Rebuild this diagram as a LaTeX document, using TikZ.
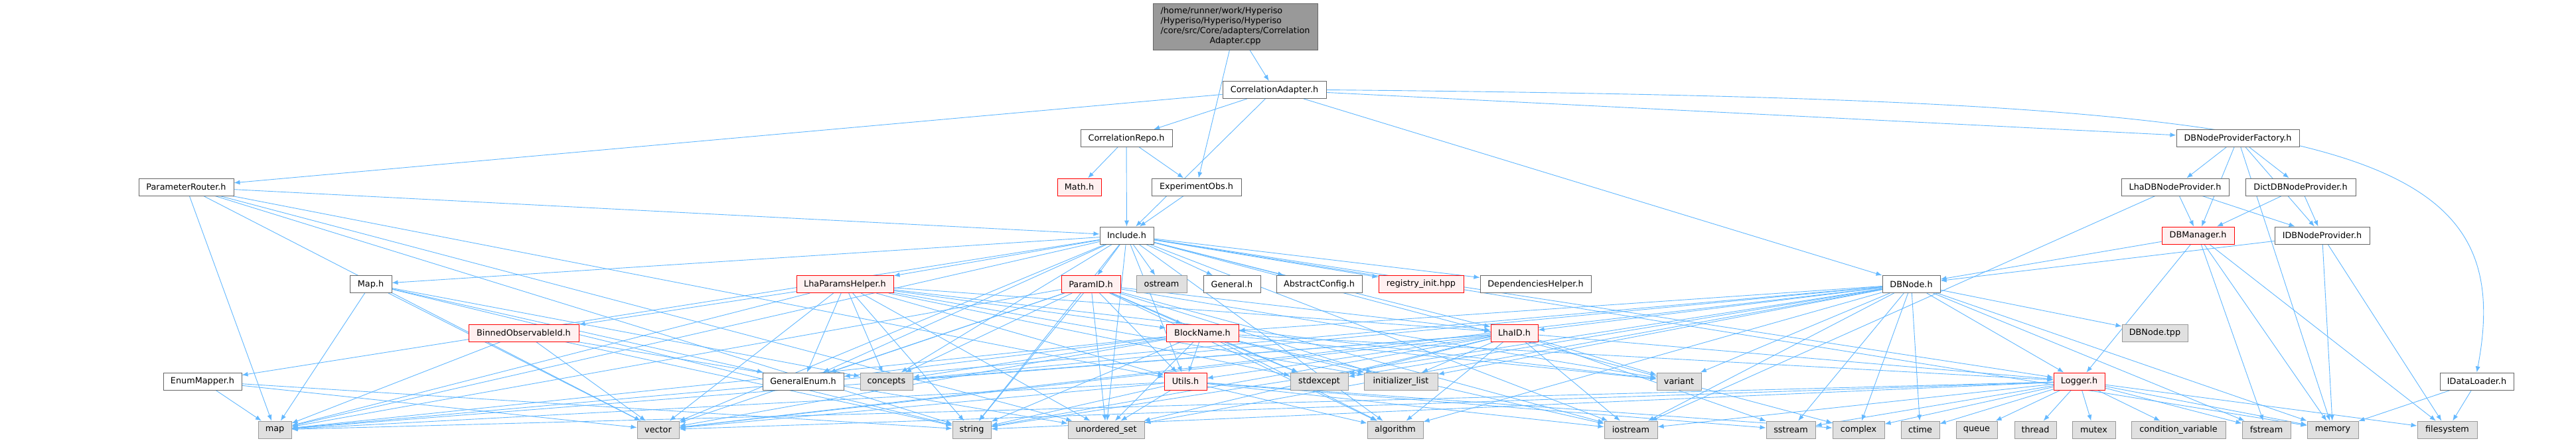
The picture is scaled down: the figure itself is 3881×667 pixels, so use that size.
\documentclass[tikz,border=0pt]{standalone}
\usepackage{fontspec}
\setmainfont{DejaVu Sans}
\usetikzlibrary{arrows.meta}
\usetikzlibrary{backgrounds}
\definecolor{edgeblue}{HTML}{63B8FF}
\definecolor{boxgray}{HTML}{666666}
\definecolor{redfill}{HTML}{FFF0F0}
\definecolor{sysgray}{HTML}{999999}
\definecolor{sysfill}{HTML}{E0E0E0}
\definecolor{maingray}{HTML}{999999}

\begin{document}
\begin{tikzpicture}[x=1pt,y=-1pt,
    box/.style={draw=boxgray, fill=white, line width=1pt, minimum height=26pt,
                inner sep=0pt, font=\fontsize{12.8}{15}\selectfont},
    hdr/.style={box},
    redhdr/.style={box, draw=red, fill=redfill},
    syshdr/.style={box, draw=sysgray, fill=sysfill},
    mainfile/.style={box, fill=maingray},
    dep/.style={draw=edgeblue, line width=0.9pt, -{Latex[length=9pt,width=7pt]}}]
        \useasboundingbox (0,0) rectangle (3881,667);

        % Source file and first levels
        \node[mainfile, minimum width=248pt, minimum height=70pt] (cpp) at (1861,40)
            {\begin{tabular}{@{}l@{}}/home/runner/work/Hyperiso\\/Hyperiso/Hyperiso/Hyperiso\\
             /core/src/Core/adapters/Correlation\\\multicolumn{1}{@{}c@{}}{Adapter.cpp}\end{tabular}};
        \node[hdr, minimum width=156pt] (ca) at (1920,135.5) {CorrelationAdapter.h};
        \node[hdr, minimum width=138pt] (crepo) at (1697,208.5) {CorrelationRepo.h};
        \node[hdr, minimum width=185pt] (dbnpf) at (3371.5,208.5) {DBNodeProviderFactory.h};
        \node[hdr, minimum width=143pt] (prouter) at (280.5,282) {ParameterRouter.h};
        \node[redhdr, minimum width=66pt] (mathh) at (1626,282) {Math.h};
        \node[hdr, minimum width=135pt] (expobs) at (1802.5,282) {ExperimentObs.h};
        \node[hdr, minimum width=162pt] (lhadbnp) at (3277,282) {LhaDBNodeProvider.h};
        \node[hdr, minimum width=166pt] (dictdbnp) at (3466,282) {DictDBNodeProvider.h};
        \node[hdr, minimum width=81pt] (inc) at (1697.5,355) {Include.h};
        \node[redhdr, minimum width=109pt] (dbman) at (3311.5,355) {DBManager.h};
        \node[hdr, minimum width=143pt] (idbnp) at (3498.5,355) {IDBNodeProvider.h};

        % Project headers
        \node[hdr, minimum width=63pt] (maph) at (558.5,428.5) {Map.h};
        \node[redhdr, minimum width=146pt] (lhaparams) at (1273,428.5) {LhaParamsHelper.h};
        \node[redhdr, minimum width=89pt] (paramid) at (1643.5,428.5) {ParamID.h};
        \node[syshdr, minimum width=76pt] (ostream) at (1750,428.5) {ostream};
        \node[hdr, minimum width=86pt] (general) at (1856,428.5) {General.h};
        \node[hdr, minimum width=129pt] (absconf) at (1987.5,428.5) {AbstractConfig.h};
        \node[redhdr, minimum width=128pt] (reginit) at (2141,428.5) {registry\_init.hpp};
        \node[hdr, minimum width=167pt] (dephelp) at (2313.5,428.5) {DependenciesHelper.h};
        \node[hdr, minimum width=87pt] (dbnode) at (2879.5,428.5) {DBNode.h};
        \node[redhdr, minimum width=166pt] (binobs) at (789,502) {BinnedObservableId.h};
        \node[redhdr, minimum width=109pt] (blockname) at (1811.5,502) {BlockName.h};
        \node[redhdr, minimum width=71pt] (lhaid) at (2281.5,502) {LhaID.h};
        \node[syshdr, minimum width=99pt] (dbnodetpp) at (3246.5,502) {DBNode.tpp};
        \node[hdr, minimum width=118pt] (enummap) at (305,575) {EnumMapper.h};
        \node[hdr, minimum width=122pt] (genenum) at (1210,575) {GeneralEnum.h};
        \node[syshdr, minimum width=79pt] (concepts) at (1335.5,575) {concepts};
        \node[redhdr, minimum width=64pt] (utils) at (1786,575) {Utils.h};
        \node[syshdr, minimum width=87pt] (stdexcept) at (1987.5,575) {stdexcept};
        \node[syshdr, minimum width=111pt] (initlist) at (2110.5,575) {initializer\_list};
        \node[syshdr, minimum width=67pt] (variant) at (2529.5,575) {variant};
        \node[redhdr, minimum width=77pt] (logger) at (3132.5,575) {Logger.h};
        \node[hdr, minimum width=111pt] (idataload) at (3731.5,575) {IDataLoader.h};

        % Standard library row
        \node[syshdr, minimum width=50pt] (map) at (414,648) {map};
        \node[syshdr, minimum width=63pt] (vector) at (991.5,648) {vector};
        \node[syshdr, minimum width=58pt] (string) at (1464,648) {string};
        \node[syshdr, minimum width=115pt] (uset) at (1666.5,648) {unordered\_set};
        \node[syshdr, minimum width=84pt] (algorithm) at (2102,648) {algorithm};
        \node[syshdr, minimum width=80pt] (iostream) at (2457,648) {iostream};
        \node[syshdr, minimum width=74pt] (sstream) at (2698,648) {sstream};
        \node[syshdr, minimum width=78pt] (complex) at (2800,648) {complex};
        \node[syshdr, minimum width=58pt] (ctime) at (2893,648) {ctime};
        \node[syshdr, minimum width=62pt] (queue) at (2978,648) {queue};
        \node[syshdr, minimum width=63pt] (thread) at (3066.5,648) {thread};
        \node[syshdr, minimum width=65pt] (mutex) at (3154.5,648) {mutex};
        \node[syshdr, minimum width=142pt] (condvar) at (3282,648) {condition\_variable};
        \node[syshdr, minimum width=73pt] (fstream) at (3414.5,648) {fstream};
        \node[syshdr, minimum width=77pt] (memory) at (3514.5,648) {memory};
        \node[syshdr, minimum width=90pt] (filesystem) at (3687,648) {filesystem};

        % Include edges
        \begin{scope}[on background layer]
        \foreach \t in {ca,expobs} \draw[dep] (cpp) -- (\t);
        \foreach \t in {crepo,prouter,inc,dbnpf,dbnode} \draw[dep] (ca) -- (\t);
        \draw[dep] (ca.east) .. controls (3500,150) and (3800,200) .. (idataload.north);
        \foreach \t in {mathh,expobs,inc} \draw[dep] (crepo) -- (\t);
        \draw[dep] (expobs) -- (inc);
        \foreach \t in {inc,map,vector,string,utils,uset} \draw[dep] (prouter) -- (\t);
        \foreach \t in {lhaparams,paramid,ostream,general,absconf,reginit,dephelp,maph,enummap,
                        lhaid,utils,logger,genenum,concepts,map,vector,string,complex,memory,
                        iostream,uset,algorithm}
            \draw[dep] (inc) -- (\t);
        \foreach \t in {map,vector,string,genenum,concepts} \draw[dep] (maph) -- (\t);
        \foreach \t in {map,vector,string} \draw[dep] (enummap) -- (\t);
        \foreach \t in {binobs,genenum,blockname,lhaid,utils,concepts,map,vector,string,uset,
                        stdexcept,variant,initlist}
            \draw[dep] (lhaparams) -- (\t);
        \foreach \t in {vector,string,uset,map} \draw[dep] (binobs) -- (\t);
        \foreach \t in {blockname,lhaid,utils,concepts,string,uset,stdexcept,initlist,variant,
                        map,vector,iostream,algorithm,genenum}
            \draw[dep] (paramid) -- (\t);
        \foreach \t in {utils,concepts,string,uset,algorithm,stdexcept,initlist,variant,
                        iostream,logger,map,vector,genenum}
            \draw[dep] (blockname) -- (\t);
        \foreach \t in {concepts,utils,stdexcept,initlist,variant,iostream,string,algorithm,
                        uset,map,vector,logger,sstream}
            \draw[dep] (lhaid) -- (\t);
        \foreach \t in {string,uset,vector,map,algorithm,iostream,sstream,complex}
            \draw[dep] (utils) -- (\t);
        \foreach \t in {blockname,lhaid,logger,dbnodetpp,memory,fstream,variant,stdexcept,
                        initlist,concepts,string,vector,map,sstream,complex,ctime,iostream,
                        algorithm,uset}
            \draw[dep] (dbnode) -- (\t);
        \foreach \t in {string,vector,map,sstream,complex,ctime,queue,thread,mutex,condvar,
                        fstream,memory,filesystem,iostream}
            \draw[dep] (logger) -- (\t);
        \foreach \t in {dbnode,logger,memory,filesystem,fstream} \draw[dep] (dbman) -- (\t);
        \foreach \t in {dbnode,memory,filesystem} \draw[dep] (idbnp) -- (\t);
        \foreach \t in {dbman,idbnp,iostream} \draw[dep] (lhadbnp) -- (\t);
        \foreach \t in {dbman,idbnp} \draw[dep] (dictdbnp) -- (\t);
        \foreach \t in {lhadbnp,dictdbnp,dbman,idbnp,memory} \draw[dep] (dbnpf) -- (\t);
        \foreach \t in {memory,filesystem} \draw[dep] (idataload) -- (\t);
        \end{scope}
\end{tikzpicture}
\end{document}
